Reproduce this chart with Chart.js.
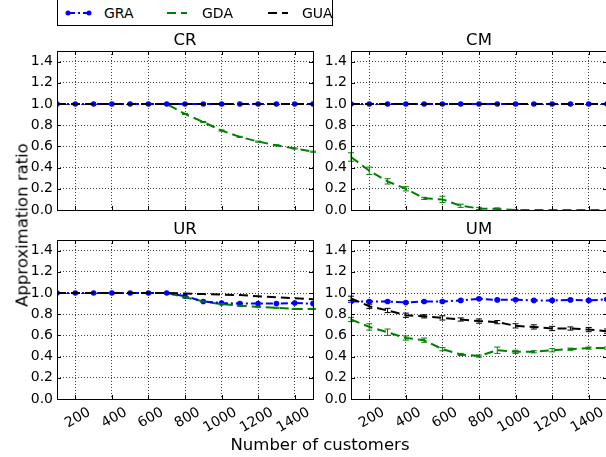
<!DOCTYPE html>
<html>
<head>
<meta charset="utf-8">
<script src="https://cdn.jsdelivr.net/npm/chart.js@4"></script>
<style>
  body { margin: 0; width: 606px; height: 457px; overflow: hidden; background: #fff; position: relative; font-family: "DejaVu Sans", sans-serif; color: #000; }
  canvas { position: absolute; left: 0; top: 0; }
  #legend { position: absolute; left: 57px; top: -1px; width: 276px; height: 27px; border: 1px solid #000; box-sizing: border-box; background: #fff; }
  #legend span { position: absolute; top: 5px; font-size: 14px; line-height: 16px; }
  #legend svg { position: absolute; left: 0; top: 0; }
  #ylab { position: absolute; left: 22px; top: 225px; font-size: 16.5px; transform: translate(-50%, -50%) rotate(-90deg); white-space: nowrap; }
  #xlab { position: absolute; left: 320px; top: 444px; font-size: 16.5px; transform: translate(-50%, -50%); white-space: nowrap; }
</style>
</head>
<body>
<canvas id="cr" width="620" height="457"></canvas>
<canvas id="cm" width="620" height="457"></canvas>
<canvas id="ur" width="620" height="457"></canvas>
<canvas id="um" width="620" height="457"></canvas>
<div id="legend">
  <svg width="276" height="27">
    <line x1="10" y1="13" x2="31" y2="13" stroke="#0000ff" stroke-width="2" stroke-dasharray="7,3,2,3"/>
    <circle cx="10" cy="13" r="2.5" fill="#0000ff"/>
    <circle cx="31" cy="13" r="2.5" fill="#0000ff"/>
    <line x1="109" y1="13" x2="129" y2="13" stroke="#008000" stroke-width="2" stroke-dasharray="9,5"/>
    <line x1="210" y1="13" x2="230" y2="13" stroke="#000" stroke-width="2" stroke-dasharray="9,5"/>
  </svg>
  <span style="left:46px">GRA</span>
  <span style="left:144px">GDA</span>
  <span style="left:244px">GUA</span>
</div>
<div id="ylab">Approximation ratio</div>
<div id="xlab">Number of customers</div>
<script>
Chart.defaults.font.family = "DejaVu Sans";
Chart.defaults.color = "#000";

const customers = [100, 200, 300, 400, 500, 600, 700, 800, 900, 1000, 1100, 1200, 1300, 1400, 1500];
const xTicks = [200, 400, 600, 800, 1000, 1200, 1400];
const yTicks = [0, 0.2, 0.4, 0.6, 0.8, 1.0, 1.2, 1.4];

// CR
const crGRA = [1, 1, 1, 1, 1, 1, 1, 1, 1, 1, 1, 1, 1, 1, 1];
const crGDA = [1, 1, 1, 1, 1, 1, 1, 0.906, 0.83, 0.75, 0.69, 0.645, 0.61, 0.58, 0.55];
const crGUA = [1, 1, 1, 1, 1, 1, 1, 1, 1, 1, 1, 1, 1, 1, 1];
const crGDAErr = [0, 0, 0, 0, 0, 0, 0, 0.005, 0.005, 0.005, 0.005, 0.005, 0.005, 0.005, 0.005];

// CM
const cmGRA = [1, 1, 1, 1, 1, 1, 1, 1, 1, 1, 1, 1, 1, 1, 1];
const cmGDA = [0.5, 0.37, 0.27, 0.2, 0.11, 0.1, 0.04, 0.015, 0.01, 0, 0, 0, 0, 0, 0];
const cmGUA = [1, 1, 1, 1, 1, 1, 1, 1, 1, 1, 1, 1, 1, 1, 1];
const cmGDAErr = [0.04, 0.035, 0.025, 0.02, 0.01, 0.03, 0.015, 0.01, 0.01, 0.005, 0, 0, 0, 0, 0];

// UR
const urGRA = [1, 1, 1, 1, 1, 1, 1, 0.97, 0.92, 0.905, 0.9, 0.9, 0.9, 0.905, 0.9];
const urGDA = [1, 1, 1, 1, 1, 1, 1, 0.96, 0.92, 0.895, 0.88, 0.87, 0.86, 0.85, 0.85];
const urGUA = [1, 1, 1, 1, 1, 1, 1, 0.995, 0.99, 0.985, 0.98, 0.97, 0.96, 0.95, 0.94];
const urGDAErr = [0, 0, 0, 0, 0, 0, 0, 0.005, 0.005, 0.005, 0.005, 0.005, 0.005, 0.005, 0.005];

// UM
const umGRA = [0.92, 0.92, 0.92, 0.91, 0.92, 0.92, 0.93, 0.945, 0.935, 0.937, 0.93, 0.93, 0.935, 0.93, 0.94];
const umGDA = [0.75, 0.68, 0.63, 0.575, 0.555, 0.47, 0.42, 0.405, 0.46, 0.445, 0.445, 0.46, 0.47, 0.48, 0.48];
const umGUA = [0.95, 0.875, 0.835, 0.79, 0.78, 0.765, 0.75, 0.735, 0.725, 0.69, 0.68, 0.665, 0.665, 0.655, 0.64];
const umGRAErr = [0.008, 0.008, 0.008, 0.008, 0.008, 0.008, 0.008, 0.008, 0.008, 0.008, 0.008, 0.008, 0.008, 0.008, 0.008];
const umGDAErr = [0.02, 0.03, 0.03, 0.02, 0.02, 0.015, 0.01, 0.01, 0.03, 0.015, 0.01, 0.015, 0.01, 0.01, 0.01];
const umGUAErr = [0.02, 0.02, 0.02, 0.02, 0.015, 0.02, 0.015, 0.02, 0.015, 0.02, 0.02, 0.02, 0.015, 0.02, 0.02];

const BLUE = "#0000ff", GREEN = "#008000", BLACK = "#000000";

function pts(vals) {
  return vals.map((v, i) => ({ x: customers[i], y: v }));
}

// drawn bottom to top: GDA, GRA, GUA
function series(gra, gda, gua, errs) {
  errs = errs || {};
  return [
    { label: "GRA", data: pts(gra), err: errs.gra, borderColor: BLUE, backgroundColor: BLUE,
      borderWidth: 2, borderDash: [7, 3, 2, 3], pointRadius: 2.8, pointBorderWidth: 0, order: 1 },
    { label: "GDA", data: pts(gda), err: errs.gda, borderColor: GREEN, backgroundColor: GREEN,
      borderWidth: 2, borderDash: [9, 5], pointRadius: 0, order: 2 },
    { label: "GUA", data: pts(gua), err: errs.gua, borderColor: BLACK, backgroundColor: BLACK,
      borderWidth: 2, borderDash: [9, 5], pointRadius: 0, order: 0 }
  ];
}

// frame, inward ticks, title and error bars
const panelPlugin = {
  id: "panel",
  afterDatasetsDraw(chart) {
    const ctx = chart.ctx, xs = chart.scales.x, ys = chart.scales.y;
    chart.data.datasets.forEach(ds => {
      if (!ds.err) return;
      ctx.save();
      ctx.strokeStyle = ds.borderColor;
      ctx.lineWidth = 1;
      ds.data.forEach((p, i) => {
        const e = ds.err[i];
        if (!e) return;
        const px = xs.getPixelForValue(p.x);
        const y1 = ys.getPixelForValue(p.y - e), y2 = ys.getPixelForValue(p.y + e);
        ctx.beginPath();
        ctx.moveTo(px, y1); ctx.lineTo(px, y2);
        ctx.moveTo(px - 3, y1); ctx.lineTo(px + 3, y1);
        ctx.moveTo(px - 3, y2); ctx.lineTo(px + 3, y2);
        ctx.stroke();
      });
      ctx.restore();
    });
  },
  afterDraw(chart, args, opts) {
    const ctx = chart.ctx, a = chart.chartArea;
    const xs = chart.scales.x, ys = chart.scales.y;
    ctx.save();
    ctx.strokeStyle = "#000";
    ctx.lineWidth = 1;
    ctx.strokeRect(Math.round(a.left) + 0.5, Math.round(a.top) + 0.5, Math.round(a.right - a.left), Math.round(a.bottom - a.top));
    ctx.beginPath();
    xTicks.forEach(v => {
      const px = Math.round(xs.getPixelForValue(v)) + 0.5;
      ctx.moveTo(px, a.bottom); ctx.lineTo(px, a.bottom - 4);
      ctx.moveTo(px, a.top); ctx.lineTo(px, a.top + 4);
    });
    yTicks.forEach(v => {
      const py = Math.round(ys.getPixelForValue(v)) + 0.5;
      ctx.moveTo(a.left, py); ctx.lineTo(a.left + 4, py);
      ctx.moveTo(a.right, py); ctx.lineTo(a.right - 4, py);
    });
    ctx.stroke();
    ctx.fillStyle = "#000";
    ctx.font = "16.5px 'DejaVu Sans'";
    ctx.textAlign = "center";
    ctx.textBaseline = "alphabetic";
    ctx.fillText(opts.title, (a.left + a.right) / 2, a.top - 6);
    ctx.restore();
  }
};

function makePanel(id, title, datasets, area, showX) {
  const yW = 40, xH = showX ? 40 : 10;
  new Chart(document.getElementById(id), {
    type: "line",
    data: { datasets: datasets },
    options: {
      responsive: false,
      devicePixelRatio: 1,
      animation: false,
      layout: { padding: { left: area.left - yW, right: 620 - area.right, top: area.top, bottom: 457 - area.bottom - xH } },
      plugins: { legend: { display: false }, tooltip: { enabled: false }, panel: { title: title } },
      elements: { line: { tension: 0 } },
      scales: {
        x: {
          type: "linear", min: 100, max: 1500,
          afterBuildTicks: s => { s.ticks = xTicks.map(v => ({ value: v })); },
          afterFit: s => { s.height = xH; },
          grid: { color: "rgba(0,0,0,0.75)", lineWidth: 1, drawTicks: false },
          border: { display: false, dash: [1, 2] },
          ticks: { display: showX, minRotation: 30, maxRotation: 30, padding: 5, labelOffset: 14,
                   font: { size: 14 }, callback: v => String(v) }
        },
        y: {
          type: "linear", min: 0, max: 1.5,
          afterBuildTicks: s => { s.ticks = yTicks.map(v => ({ value: v })); },
          afterFit: s => { s.width = yW; },
          grid: { color: "rgba(0,0,0,0.75)", lineWidth: 1, drawTicks: false },
          border: { display: false, dash: [1, 2] },
          ticks: { padding: 4, font: { size: 14 }, callback: v => v.toFixed(1) }
        }
      }
    },
    plugins: [panelPlugin]
  });
}

makePanel("cr", "CR", series(crGRA, crGDA, crGUA, { gda: crGDAErr }), { left: 57, right: 313, top: 51, bottom: 210 }, false);
makePanel("cm", "CM", series(cmGRA, cmGDA, cmGUA, { gda: cmGDAErr }), { left: 351, right: 607, top: 51, bottom: 210 }, false);
makePanel("ur", "UR", series(urGRA, urGDA, urGUA, { gda: urGDAErr }), { left: 57, right: 313, top: 240, bottom: 399 }, true);
makePanel("um", "UM", series(umGRA, umGDA, umGUA, { gra: umGRAErr, gda: umGDAErr, gua: umGUAErr }), { left: 351, right: 607, top: 240, bottom: 399 }, true);
</script>
</body>
</html>
